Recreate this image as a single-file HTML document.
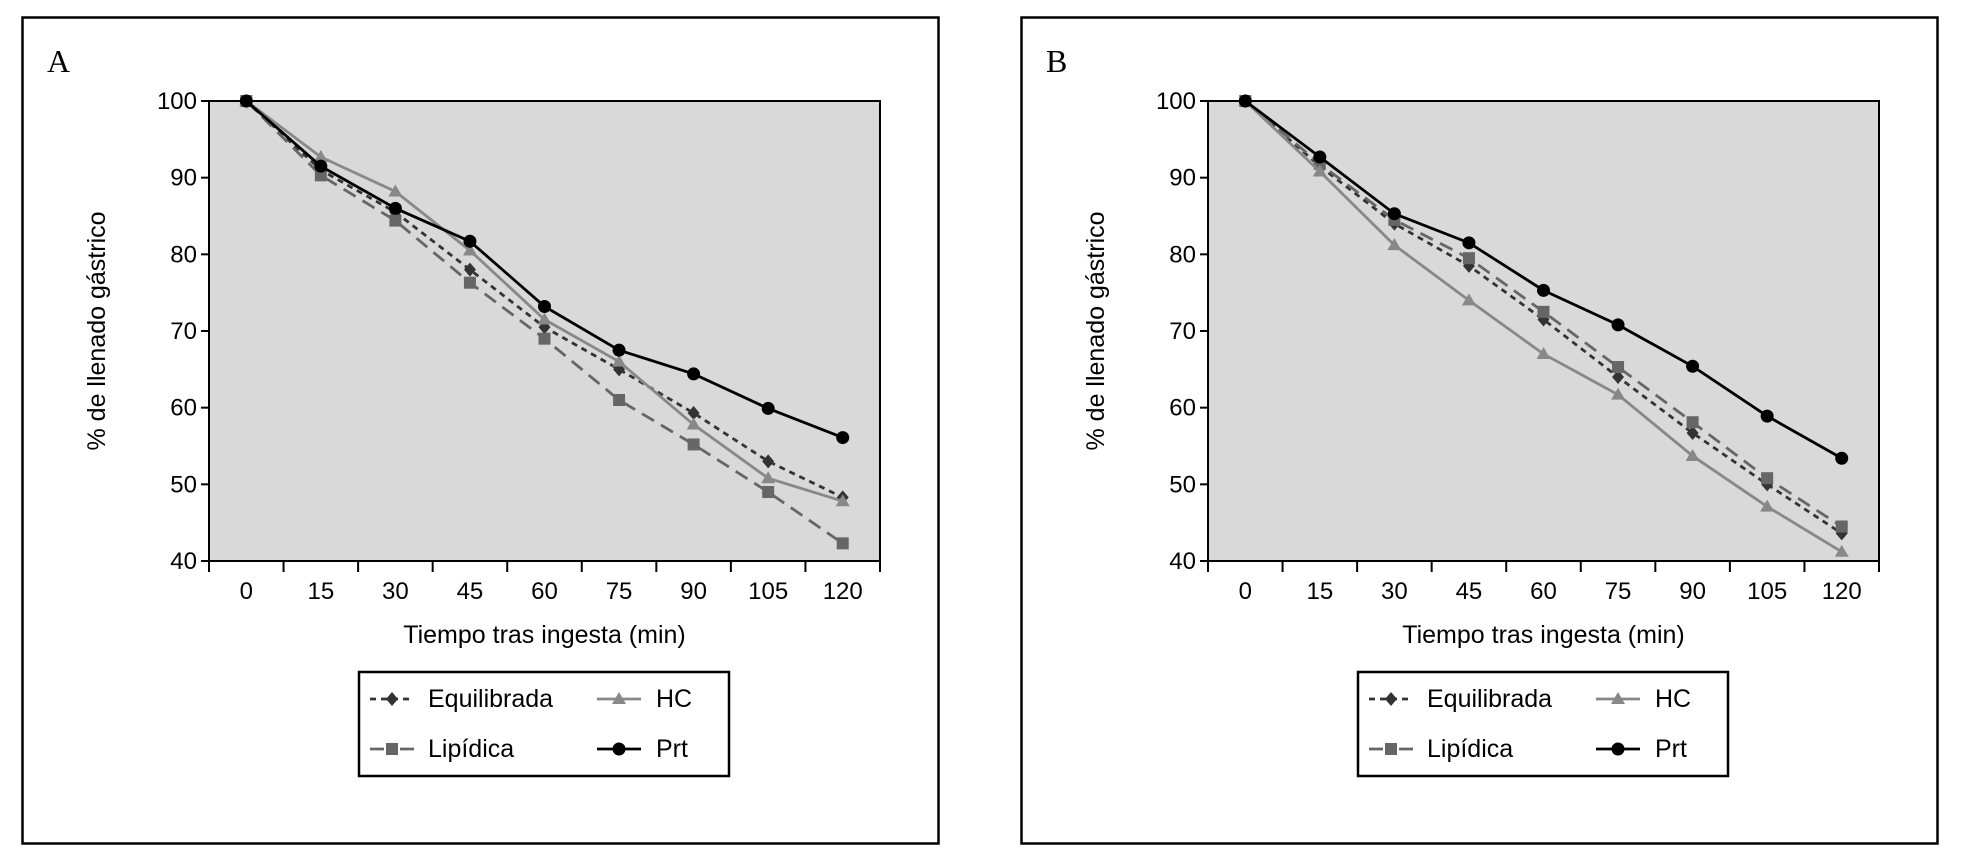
<!DOCTYPE html>
<html><head><meta charset="utf-8"><style>
html,body{margin:0;padding:0;background:#fff;}
svg{display:block;font-family:"Liberation Sans",sans-serif;}
</style></head><body>
<svg id="chart" width="1963" height="862" viewBox="0 0 1963 862" xmlns="http://www.w3.org/2000/svg"></svg>
<script>
const categories = [0,15,30,45,60,75,90,105,120];
const yTicks = [40,50,60,70,80,90,100];
const seriesNames = ["Equilibrada","Lipídica","HC","Prt"];
const aEquil = [100,91,85.5,78,70.5,65,59.3,53,48.3];
const aLip   = [100,90.3,84.4,76.3,69,61,55.2,49,42.3];
const aHC    = [100,92.7,88.2,80.5,71.5,66,57.8,50.8,47.8];
const aPrt   = [100,91.5,86,81.7,73.2,67.5,64.4,59.9,56.1];
const bEquil = [100,91.5,84,78.5,71.5,64,56.7,50,43.6];
const bLip   = [100,91.8,84.5,79.5,72.5,65.3,58.1,50.8,44.5];
const bHC    = [100,90.8,81.2,74,67,61.7,53.7,47.1,41.2];
const bPrt   = [100,92.7,85.3,81.5,75.3,70.8,65.4,58.9,53.4];

const NS="http://www.w3.org/2000/svg";
const svg=document.getElementById('chart');
function mk(tag,attrs,parent){const e=document.createElementNS(NS,tag);for(const k in attrs)e.setAttribute(k,attrs[k]);(parent||svg).appendChild(e);return e;}
const styles={
 "Equilibrada":{stroke:"#333",dash:"6,5",marker:"diamond"},
 "Lipídica":{stroke:"#666",dash:"14,8",marker:"square"},
 "HC":{stroke:"#888",dash:"",marker:"triangle"},
 "Prt":{stroke:"#000",dash:"",marker:"circle"}
};
function marker(g,type,x,y,col){
  let m;
  if(type==="diamond")m=mk('polygon',{points:`${x},${y-7} ${x+6},${y} ${x},${y+7} ${x-6},${y}`,fill:col},g);
  else if(type==="square")m=mk('rect',{x:x-6,y:y-6,width:12,height:12,fill:col},g);
  else if(type==="triangle")m=mk('polygon',{points:`${x},${y-7} ${x+7},${y+5} ${x-7},${y+5}`,fill:col},g);
  else m=mk('circle',{cx:x,cy:y,r:6.5,fill:col},g);
  return m;
}
function panel(label,ox,data){
  const g=mk('g',{});
  
  
  const fr=mk('rect',{x:ox+22.5,y:17.5,width:916,height:826,fill:'none',stroke:'#000','stroke-width':2.5},g);
  
  const lt=mk('text',{x:ox+47,y:72,'font-family':'Liberation Serif,serif','font-size':32},g);lt.textContent=label;
  
  const L=ox+209,R=ox+880,T=101,B=561;
  const bw=(R-L)/categories.length;
  const xs=i=>L+bw*(i+0.5);
  const ys=v=>B-(v-40)/(100-40)*(B-T);
  const bg=mk('rect',{x:L,y:T,width:R-L,height:B-T,fill:'#d9d9d9',stroke:'#000','stroke-width':2},g);
  
  yTicks.forEach(v=>{
    mk('line',{x1:L-8,x2:L,y1:ys(v),y2:ys(v),stroke:'#000','stroke-width':2},g);
    const t=mk('text',{x:L-12,y:ys(v)+8,'text-anchor':'end','font-size':24},g);t.textContent=v;
    
  });
  for(let i=0;i<=categories.length;i++){const x=L+bw*i;mk('line',{x1:x,x2:x,y1:B,y2:B+11,stroke:'#000','stroke-width':2},g);}
  categories.forEach((c,i)=>{
    const t=mk('text',{x:xs(i),y:B+38,'text-anchor':'middle','font-size':24},g);t.textContent=c;
    
  });
  const xt=mk('text',{x:(L+R)/2,y:643,'text-anchor':'middle','font-size':25},g);xt.textContent='Tiempo tras ingesta (min)';
  
  const yt=mk('text',{x:0,y:0,'text-anchor':'middle','font-size':25,transform:`translate(${ox+105},${(T+B)/2}) rotate(-90)`},g);yt.textContent='% de llenado gástrico';
  
  seriesNames.forEach((n,si)=>{
    const st=styles[n];const vals=data[si];
    const sg=mk('g',{},g);
    
    const pts=vals.map((v,i)=>xs(i)+','+ys(v)).join(' ');
    mk('polyline',{points:pts,fill:'none',stroke:st.stroke,'stroke-width':2.8,'stroke-dasharray':st.dash},sg);
    vals.forEach((v,i)=>{const m=marker(sg,st.marker,xs(i),ys(v),st.stroke);
      });
  });
  const lx=ox+359,ly=672;
  const lg=mk('g',{},g);
  mk('rect',{x:lx,y:ly,width:370,height:104,fill:'#fff',stroke:'#000','stroke-width':2.5},lg);
  const pos=[[0,0],[0,1],[1,0],[1,1]];
  seriesNames.forEach((n,si)=>{
    const st=styles[n];const [c,r]=pos[si];
    const sx=lx+(c?238:11),y=ly+27+r*50;
    const e=mk('g',{},lg);
    mk('line',{x1:sx,x2:sx+44,y1:y,y2:y,stroke:st.stroke,'stroke-width':2.8,'stroke-dasharray':st.dash==="14,8"?"14,16":st.dash},e);
    marker(e,st.marker,sx+22,y,st.stroke);
    const t=mk('text',{x:lx+(c?297:69),y:y+8,'font-size':25},e);t.textContent=n;
  });
}
panel('A',0,[aEquil,aLip,aHC,aPrt]);
panel('B',999,[bEquil,bLip,bHC,bPrt]);
</script>
</body></html>
